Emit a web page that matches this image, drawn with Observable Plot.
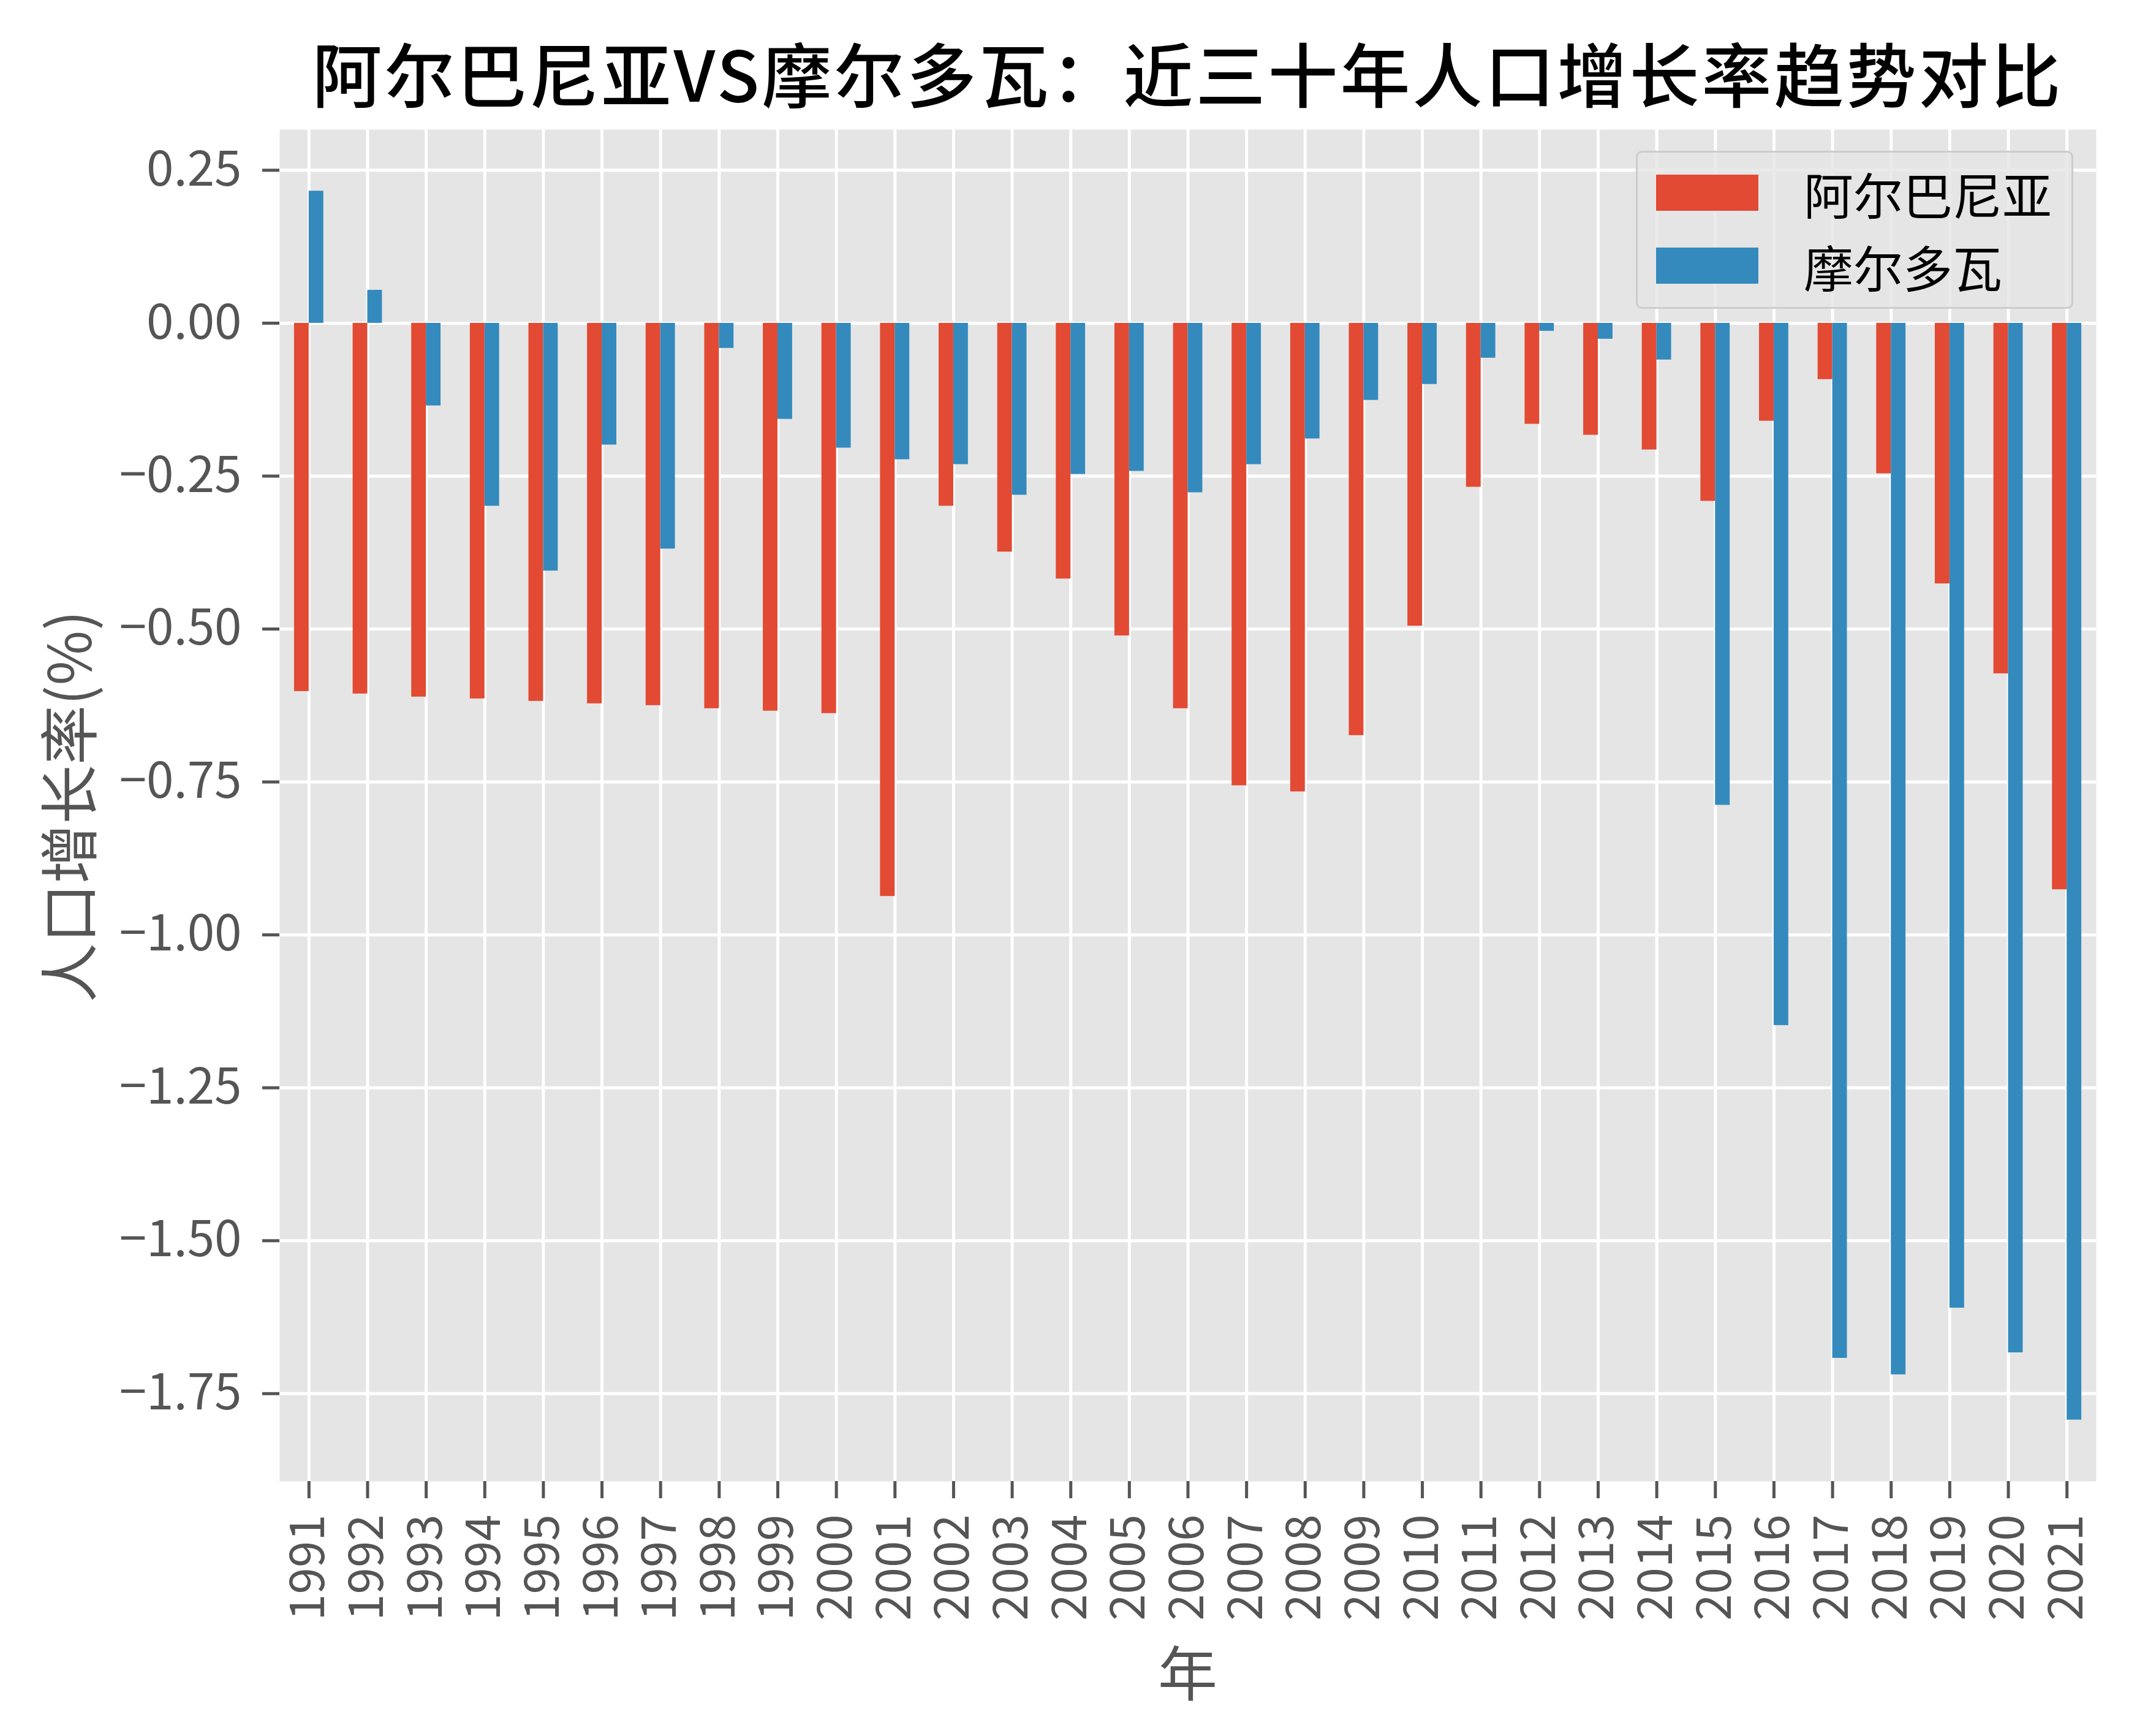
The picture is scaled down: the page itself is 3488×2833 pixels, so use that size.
<!DOCTYPE html>
<html>
<head>
<meta charset="utf-8">
<script src="https://cdn.jsdelivr.net/npm/d3@7"></script>
<script src="https://cdn.jsdelivr.net/npm/@observablehq/plot@0.6"></script>
<style>
  html, body { margin: 0; padding: 0; background: #ffffff; }
  #fig { position: relative; width: 3488px; height: 2833px; background: #ffffff; overflow: hidden;
         font-family: "Noto Sans CJK SC", "DejaVu Sans", sans-serif; }
  #title { position: absolute; left: 456px; width: 2965px; top: 56px; height: 122px; line-height: 122px;
           text-align: center; font-size: 114px; color: #000; font-weight: 500; white-space: nowrap;
           letter-spacing: 4px; }
  #chart { position: absolute; left: 0; top: 180px; }
  #xlabel { position: absolute; left: 456px; width: 2965px; top: 2670px; text-align: center;
            font-size: 97px; line-height: 110px; color: #555555; }
  #ylabel { position: absolute; left: 107px; top: 1316px; font-size: 97px; line-height: 110px; color: #555555;
            white-space: nowrap; transform: translate(-50%, -50%) rotate(-90deg); }
  #legend { position: absolute; left: 2670px; top: 246px; width: 714px; height: 258px; box-sizing: border-box;
            background: rgba(229,229,229,0.8); border: 3px solid #cccccc; border-radius: 10px; }
  .lg-row { position: absolute; left: 30px; height: 59px; display: flex; align-items: center; }
  .lg-sw { width: 167px; height: 59px; }
  .lg-tx { margin-left: 74px; font-size: 81px; line-height: 90px; color: #000; white-space: nowrap; }
</style>
</head>
<body>
<div id="fig">
  <div id="title"></div>
  <div id="chart"></div>
  <div id="xlabel"></div>
  <div id="ylabel"></div>
  <div id="legend"></div>
</div>
<script>
const titleText = "阿尔巴尼亚VS摩尔多瓦：近三十年人口增长率趋势对比";
const xLabel = "年";
const yLabel = "人口增长率(%)";
const seriesNames = ["阿尔巴尼亚", "摩尔多瓦"];
const seriesColors = ["#E24A33", "#348ABD"];

const years = [1991, 1992, 1993, 1994, 1995, 1996, 1997, 1998, 1999, 2000,
               2001, 2002, 2003, 2004, 2005, 2006, 2007, 2008, 2009, 2010,
               2011, 2012, 2013, 2014, 2015, 2016, 2017, 2018, 2019, 2020, 2021];
const albania = [-0.602, -0.606, -0.611, -0.614, -0.618, -0.622, -0.625, -0.630, -0.634, -0.638,
                 -0.937, -0.299, -0.374, -0.418, -0.511, -0.630, -0.756, -0.766, -0.674, -0.495,
                 -0.268, -0.165, -0.183, -0.207, -0.291, -0.160, -0.092, -0.246, -0.426, -0.573, -0.926];
const moldova = [0.216, 0.054, -0.135, -0.299, -0.405, -0.199, -0.369, -0.041, -0.157, -0.204,
                 -0.223, -0.231, -0.281, -0.247, -0.242, -0.277, -0.231, -0.189, -0.126, -0.100,
                 -0.057, -0.013, -0.026, -0.060, -0.788, -1.148, -1.692, -1.719, -1.610, -1.683, -1.793];
const yTicks = [0.25, 0, -0.25, -0.5, -0.75, -1.0, -1.25, -1.5, -1.75];

// table built from the arrays
const rows = [];
years.forEach((yr, i) => {
  rows.push({year: yr, series: seriesNames[0], k: 0, value: albania[i]});
  rows.push({year: yr, series: seriesNames[1], k: 1, value: moldova[i]});
});

const barWidth = 0.25; // each bar = quarter of a category step (group = 0.5)
const allVals = albania.concat(moldova);
const [vmin, vmax] = d3.extent(allVals);
const pad = (vmax - vmin) * 0.05;

const fontFamily = '"Noto Sans CJK SC", "DejaVu Sans", sans-serif';
const fmt = d => (d < 0 ? "\u2212" : "") + Math.abs(d).toFixed(2);

const chart = Plot.plot({
  width: 3488,
  height: 2653,
  marginTop: 31,
  marginBottom: 416,
  marginLeft: 456,
  marginRight: 67,
  style: {background: "transparent", fontFamily, fontSize: "80px", color: "#555555", overflow: "visible"},
  x: {type: "linear", domain: [years[0] - 0.5, years[years.length - 1] + 0.5]},
  y: {domain: [vmin - pad, vmax + pad]},
  color: {domain: seriesNames, range: seriesColors},
  marks: [
    Plot.frame({fill: "#E5E5E5", stroke: "none"}),
    Plot.gridX(years, {stroke: "#ffffff", strokeOpacity: 1, strokeWidth: 5}),
    Plot.gridY(yTicks, {stroke: "#ffffff", strokeOpacity: 1, strokeWidth: 5}),
    Plot.rect(rows, {
      x1: d => d.year - barWidth + d.k * barWidth,
      x2: d => d.year + d.k * barWidth,
      y1: 0,
      y2: "value",
      fill: "series",
      inset: 0
    }),
    Plot.axisX(years, {
      tickFormat: d => String(d),
      tickRotate: -90,
      tickSize: 28,
      tickPadding: 26,
      strokeWidth: 5,
      stroke: "#555555",
      fill: "#555555",
      fontSize: 78,
      label: null
    }),
    Plot.axisY(yTicks, {
      tickFormat: fmt,
      tickSize: 28,
      tickPadding: 34,
      strokeWidth: 5,
      stroke: "#555555",
      fill: "#555555",
      fontSize: 80,
      label: null
    })
  ]
});
document.getElementById("chart").appendChild(chart);

document.getElementById("title").textContent = titleText;
document.getElementById("xlabel").textContent = xLabel;
document.getElementById("ylabel").textContent = yLabel;

const legend = document.getElementById("legend");
seriesNames.forEach((name, i) => {
  const row = document.createElement("div");
  row.className = "lg-row";
  row.style.top = (36 + i * 119) + "px";
  const sw = document.createElement("div");
  sw.className = "lg-sw";
  sw.style.background = seriesColors[i];
  const tx = document.createElement("div");
  tx.className = "lg-tx";
  tx.textContent = name;
  row.appendChild(sw);
  row.appendChild(tx);
  legend.appendChild(row);
});
</script>
</body>
</html>
